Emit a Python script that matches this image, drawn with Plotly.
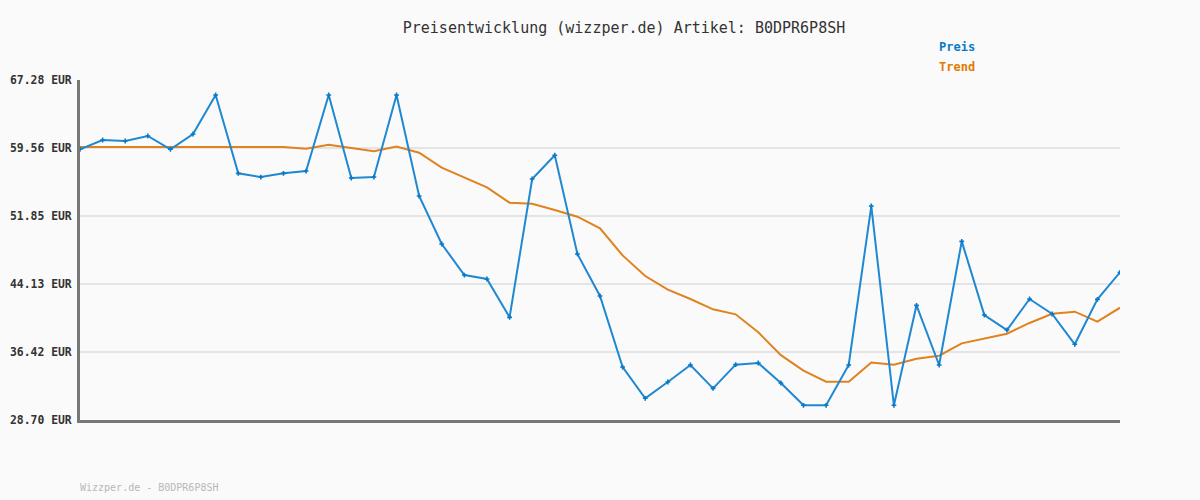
import plotly.graph_objects as go

price = [59.42, 60.47, 60.36, 60.93, 59.42, 61.15, 65.58, 56.69, 56.27, 56.69,
         56.95, 65.58, 56.16, 56.27, 65.58, 54.12, 48.67, 45.15, 44.70, 40.35,
         56.05, 58.74, 47.54, 42.77, 34.71, 31.16, 33.01, 34.94, 32.29, 34.98,
         35.17, 32.90, 30.37, 30.37, 34.94, 52.98, 30.37, 41.71, 34.94, 48.97,
         40.61, 38.91, 42.43, 40.73, 37.29, 42.39, 45.46]
trend = [59.68, 59.68, 59.68, 59.68, 59.68, 59.68, 59.68, 59.68, 59.68, 59.68,
         59.49, 59.94, 59.57, 59.19, 59.72, 59.03, 57.33, 56.19, 55.10, 53.36,
         53.24, 52.53, 51.77, 50.44, 47.38, 45.04, 43.49, 42.43, 41.26, 40.69,
         38.65, 36.06, 34.30, 33.05, 33.05, 35.23, 34.98, 35.66, 36.00, 37.40,
         37.97, 38.49, 39.71, 40.76, 40.99, 39.86, 41.44]
x = list(range(len(price)))
tick_vals = [28.70, 36.42, 44.13, 51.85, 59.56, 67.28]
tick_text = ["%.2f EUR" % v for v in tick_vals]

BLUE = "#1f88d2"
ORANGE = "#e0821e"

fig = go.Figure()
fig.add_trace(go.Scatter(x=x, y=trend, mode="lines", name="Trend",
                         line=dict(color=ORANGE, width=2), hoverinfo="skip"))
fig.add_trace(go.Scatter(x=x, y=price, mode="lines+markers", name="Preis",
                         line=dict(color=BLUE, width=2),
                         marker=dict(symbol="cross", size=4, color="#0a78c8")))

mono = "DejaVu Sans Mono, Liberation Mono, monospace"
pw, ph = 1200 - 160, 500 - 160


def px2paper(px, py):
    return (px - 80) / pw, 1 - (py - 80) / ph


ax_p, ay_p = px2paper(937, 47)
ax_t, ay_t = px2paper(937, 67)
ax_f, ay_f = px2paper(78, 487)

fig.update_layout(
    width=1200, height=500,
    paper_bgcolor="#fafafa", plot_bgcolor="#fafafa",
    margin=dict(l=80, r=80, t=80, b=80),
    showlegend=False,
    title=dict(text="Preisentwicklung (wizzper.de) Artikel: B0DPR6P8SH",
               x=0.52, xanchor="center", y=0.944, yanchor="middle",
               font=dict(family=mono, size=15, color="#333333")),
    xaxis=dict(range=[0, len(price) - 1], showgrid=False, zeroline=False,
               showticklabels=False, ticks="", showline=True, automargin=False,
               linecolor="#777777", linewidth=3),
    yaxis=dict(range=[tick_vals[0], tick_vals[-1]], tickvals=tick_vals,
               ticktext=tick_text, showgrid=True, gridcolor="#e4e4e4",
               gridwidth=2, zeroline=False, showline=True, automargin=False,
               linecolor="#777777", linewidth=3, ticks="", ticklen=0,
               ticklabelstandoff=3,
               tickfont=dict(family=mono, size=11.4, color="#333333", weight="bold")),
    annotations=[
        dict(text="Preis", x=ax_p, y=ay_p, xref="paper", yref="paper",
             showarrow=False, xanchor="left", yanchor="middle",
             font=dict(family=mono, size=12, color="#0a7bc4", weight="bold")),
        dict(text="Trend", x=ax_t, y=ay_t, xref="paper", yref="paper",
             showarrow=False, xanchor="left", yanchor="middle",
             font=dict(family=mono, size=12, color="#e07b00", weight="bold")),
        dict(text="Wizzper.de - B0DPR6P8SH", x=ax_f, y=ay_f, xref="paper", yref="paper",
             showarrow=False, xanchor="left", yanchor="middle",
             font=dict(family=mono, size=10, color="#b8b8b8")),
    ],
)
fig.write_html("out.html", config={"displayModeBar": False},
               post_script="document.body.style.margin='0';document.body.style.background='#fafafa';")
